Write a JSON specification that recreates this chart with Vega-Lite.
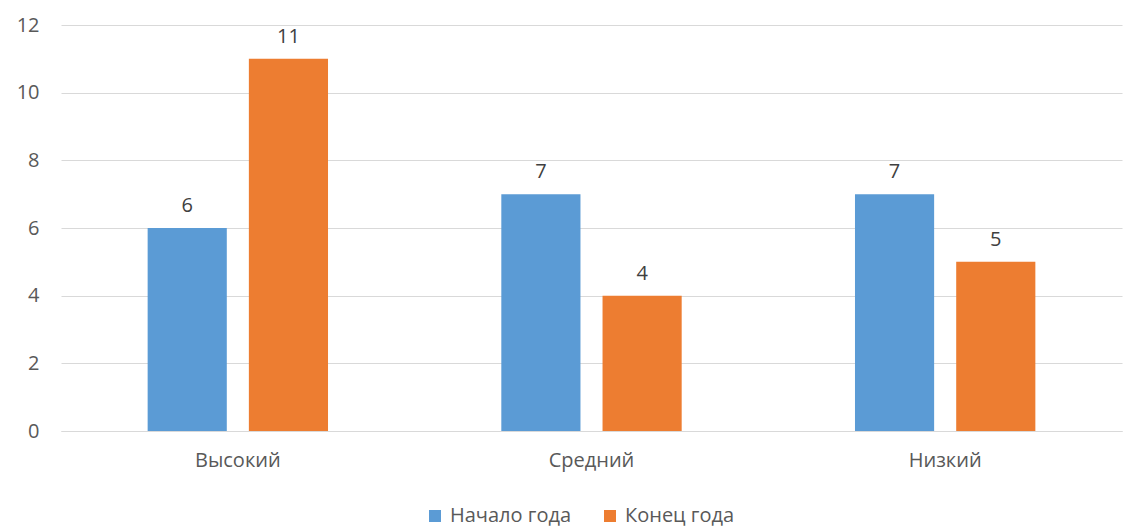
{
  "$schema": "https://vega.github.io/schema/vega-lite/v6.json",
  "width": 1061,
  "height": 406,
  "autosize": "none",
  "padding": {"left": 61, "top": 25, "right": 2, "bottom": 98},
  "background": "white",
  "data": {
    "values": [
      {"level": "Высокий", "period": "Начало года", "value": 6},
      {"level": "Высокий", "period": "Конец года", "value": 11},
      {"level": "Средний", "period": "Начало года", "value": 7},
      {"level": "Средний", "period": "Конец года", "value": 4},
      {"level": "Низкий", "period": "Начало года", "value": 7},
      {"level": "Низкий", "period": "Конец года", "value": 5}
    ]
  },
  "encoding": {
    "x": {
      "field": "level", "type": "nominal", "sort": ["Высокий", "Средний", "Низкий"],
      "scale": {"paddingInner": 0.49, "paddingOuter": 0.245},
      "axis": {"title": null, "labelAngle": 0, "ticks": false, "domainColor": "#d9d9d9", "labelPadding": 19, "labelColor": "#595959", "labelFontSize": 20, "labelFont": "Open Sans"}
    },
    "xOffset": {
      "field": "period", "type": "nominal", "sort": ["Начало года", "Конец года"],
      "scale": {"paddingInner": 0.218, "paddingOuter": 0}
    },
    "y": {
      "field": "value", "type": "quantitative",
      "scale": {"domain": [0, 12]},
      "axis": {"title": null, "values": [0, 2, 4, 6, 8, 10, 12], "domain": false, "ticks": false, "gridColor": "#d9d9d9", "labelPadding": 22, "labelColor": "#595959", "labelFontSize": 20, "labelFont": "Open Sans"}
    }
  },
  "layer": [
    {
      "mark": {"type": "bar"},
      "encoding": {
        "color": {
          "field": "period", "type": "nominal", "sort": ["Начало года", "Конец года"],
          "scale": {"domain": ["Начало года", "Конец года"], "range": ["#5b9bd5", "#ed7d31"]},
          "legend": {
            "title": null, "orient": "none", "direction": "horizontal", "legendX": 364, "legendY": 481,
            "symbolType": "square", "symbolSize": 144, "symbolStrokeWidth": 0, "labelFontSize": 20, "labelFont": "Open Sans", "labelColor": "#595959", "columnPadding": 28, "labelOffset": 5
          }
        }
      }
    },
    {
      "mark": {"type": "text", "baseline": "bottom", "dy": -12, "fontSize": 20, "font": "Open Sans", "color": "#404040"},
      "encoding": {"text": {"field": "value", "type": "quantitative"}}
    }
  ],
  "config": {"view": {"stroke": null}}
}
